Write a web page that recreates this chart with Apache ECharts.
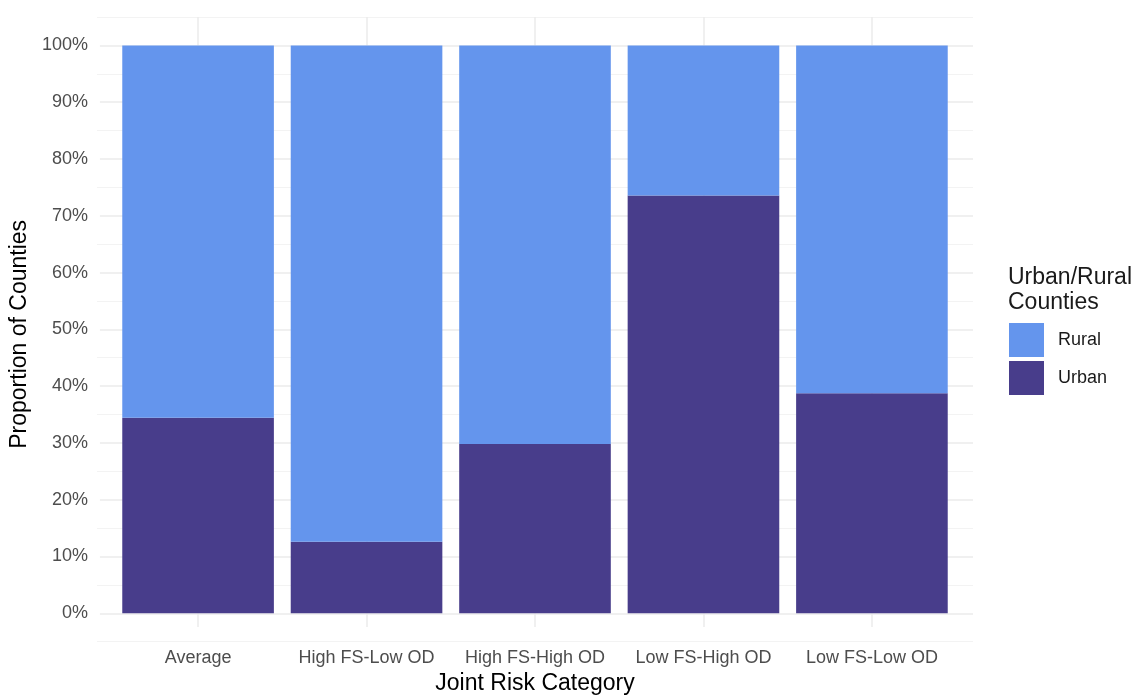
<!DOCTYPE html>
<html>
<head>
<meta charset="utf-8">
<script src="https://cdn.jsdelivr.net/npm/echarts@6/dist/echarts.min.js"></script>
<style>
html,body{margin:0;padding:0;background:#fff;}
#chart{width:1144px;height:700px;}
</style>
</head>
<body>
<div id="chart"></div>
<script>
const categories = ['Average', 'High FS-Low OD', 'High FS-High OD', 'Low FS-High OD', 'Low FS-Low OD'];
const urbanValues = [0.3445, 0.126, 0.298, 0.7355, 0.3875];
const ruralValues = [0.6555, 0.874, 0.702, 0.2645, 0.6125];
const yTickValues = [0, 0.1, 0.2, 0.3, 0.4, 0.5, 0.6, 0.7, 0.8, 0.9, 1.0];
const seriesNames = ['Urban', 'Rural'];
const legendTitle = 'Urban/Rural\nCounties';
const xTitle = 'Joint Risk Category';
const yTitle = 'Proportion of Counties';

const FONT = '"Liberation Sans", Arial, Helvetica, sans-serif';
const URBAN = '#483D8B';
const RURAL = '#6495ED';
const GRID_MAJOR = '#ebebeb';
const GRID_MINOR = '#f3f3f3';

// panel geometry
const P_LEFT = 97, P_RIGHT = 973;
const Y0 = 613.3, Y1 = 45.4; // 0% and 100%
const unit = Y0 - Y1;
const P_TOP = Y1 - 0.05 * unit, P_BOTTOM = Y0 + 0.05 * unit;
const step = (P_RIGHT - P_LEFT) / (categories.length - 1 + 1.2);
const firstC = P_LEFT + 0.6 * step;
const lastC = firstC + step * (categories.length - 1);

const chart = echarts.init(document.getElementById('chart'), null, {renderer: 'canvas'});
const option = {
  animation: false,
  backgroundColor: '#fff',
  title: {
    text: legendTitle,
    left: 1008, top: 265,
    padding: 0,
    textStyle: {fontFamily: FONT, fontSize: 23, fontWeight: 'normal', color: '#1a1a1a', lineHeight: 25}
  },
  legend: {
    data: ['Rural', 'Urban'],
    orient: 'vertical',
    left: 1009, top: 323,
    padding: 0,
    itemWidth: 35, itemHeight: 34, itemGap: 4,
    icon: 'rect',
    textStyle: {fontFamily: FONT, fontSize: 18, color: '#1a1a1a', padding: [2, 0, 0, 9]}
  },
  grid: [
    {left: firstC - step / 2, width: step * categories.length, top: Y1, height: unit, containLabel: false},
    {left: P_LEFT, width: P_RIGHT - P_LEFT, top: P_TOP, height: P_BOTTOM - P_TOP},
    {left: P_LEFT, width: P_RIGHT - P_LEFT, top: Y1, height: unit},
    {left: firstC, width: lastC - firstC, top: P_TOP, height: P_BOTTOM - P_TOP}
  ],
  xAxis: [
    {gridIndex: 0, type: 'category', data: categories, show: false},
    {gridIndex: 1, type: 'value', show: false, min: 0, max: 1},
    {gridIndex: 2, type: 'value', show: false, min: 0, max: 1},
    {gridIndex: 3, type: 'category', data: categories, boundaryGap: false,
      axisLine: {show: false}, axisTick: {show: false},
      axisLabel: {interval: 0, margin: 10, padding: [12, 0, 0, 0], fontFamily: FONT, fontSize: 18, color: '#4d4d4d'},
      splitLine: {show: true, lineStyle: {color: GRID_MAJOR, width: 1.5}},
      name: xTitle, nameLocation: 'middle', nameGap: 38,
      nameTextStyle: {fontFamily: FONT, fontSize: 23, color: '#000', padding: [6, 0, 0, 0]}
    }
  ],
  yAxis: [
    {gridIndex: 0, type: 'value', min: 0, max: 1, show: false},
    {gridIndex: 1, type: 'value', min: -0.05, max: 1.05, interval: 0.1,
      axisLine: {show: false}, axisTick: {show: false}, axisLabel: {show: false},
      splitLine: {show: true, lineStyle: {color: GRID_MINOR, width: 1}}
    },
    {gridIndex: 2, type: 'value', min: 0, max: 1, interval: 0.1,
      axisLine: {show: false}, axisTick: {show: false},
      axisLabel: {margin: 12, fontFamily: FONT, fontSize: 18, color: '#4d4d4d',
        formatter: v => {
          const t = yTickValues.find(x => Math.abs(x - v) < 1e-6);
          return t === undefined ? '' : Math.round(t * 100) + '%';
        }},
      splitLine: {show: true, lineStyle: {color: GRID_MAJOR, width: 1.5}},
      name: yTitle, nameLocation: 'middle', nameGap: 67, nameRotate: 90,
      nameTextStyle: {fontFamily: FONT, fontSize: 23, color: '#000', padding: [0, 10, 0, 0]}
    },
    {gridIndex: 3, type: 'value', show: false, min: 0, max: 1}
  ],
  series: [
    {name: seriesNames[0], type: 'bar', stack: 'total', xAxisIndex: 0, yAxisIndex: 0,
      data: urbanValues, itemStyle: {color: URBAN}, barCategoryGap: '10%', z: 5},
    {name: seriesNames[1], type: 'bar', stack: 'total', xAxisIndex: 0, yAxisIndex: 0,
      data: ruralValues, itemStyle: {color: RURAL}, barCategoryGap: '10%', z: 5}
  ]
};
chart.setOption(option);
</script>
</body>
</html>
